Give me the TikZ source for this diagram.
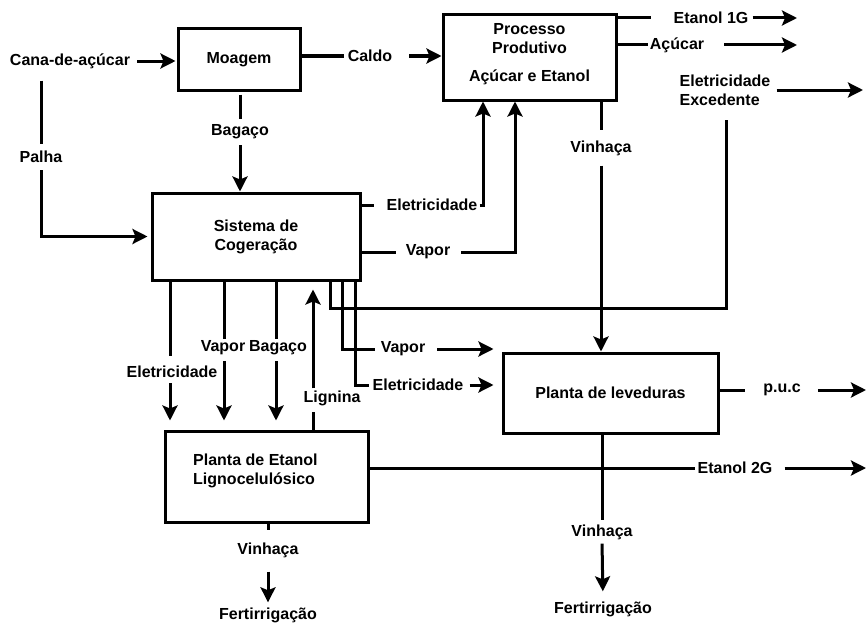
\documentclass[tikz,border=0pt]{standalone}
\usepackage{fontspec}
\setmainfont{Liberation Sans}
\usetikzlibrary{arrows.meta,calc}
\newcommand\dfont{\fontsize{16}{19}\selectfont\bfseries}
\begin{document}
\begin{tikzpicture}[x=1pt,y=-1pt,
  box/.style={draw, line width=3pt, inner sep=0pt, font=\dfont, align=center},
  lbl/.style={inner sep=2pt, font=\dfont},
  ln/.style={line width=3pt},
  arr/.style={line width=3pt, -{Stealth[length=15pt,width=15pt,inset=3pt]}},
]
\useasboundingbox[fill=white] (0,0) rectangle (866,626);
% boxes
\node[box, minimum width=122pt, minimum height=61pt] (moa) at (239,59.5) {Moagem};
\node[box, minimum width=173pt, minimum height=85pt] (proc) at (529.5,57.5) {};
\node[lbl, align=center] (proct) at (529.5,54) {Processo\\Produtivo\\[9pt]Açúcar e Etanol};
\node[box, minimum width=208pt, minimum height=87pt] (sis) at (256,236.5) {Sistema de\\Cogeração};
\node[box, minimum width=215pt, minimum height=80pt] (lev) at (610.5,393) {Planta de leveduras};
\node[box, minimum width=203pt, minimum height=91pt] (pet) at (266.5,476.5) {};
\node[lbl, align=left, anchor=west] (pett) at (191,471) {Planta de Etanol\\Lignocelulósico};
% labels
\node[lbl] (cana) at (70,61) {Cana-de-açúcar};
\node[lbl] (palha) at (41,157) {Palha};
\node[lbl] (bag1) at (240,132) {Bagaço};
\node[lbl] (caldo) at (370,56) {Caldo};
\node[lbl] (e1g) at (711,18) {Etanol 1G};
\node[lbl] (acu) at (677,45) {Açúcar};
\node[lbl, align=left] (ee) at (725,90) {Eletricidade\\Excedente};
\node[lbl] (vin1) at (601,148) {Vinhaça};
\node[lbl] (el1) at (432,205) {Eletricidade};
\node[lbl] (vap1) at (428,252) {Vapor};
\node[lbl] (el2) at (172,372) {Eletricidade};
\node[lbl] (vap3) at (223,348) {Vapor};
\node[lbl] (bag2) at (278,348) {Bagaço};
\node[lbl] (lig) at (332,398) {Lignina};
\node[lbl] (vap2) at (403,349) {Vapor};
\node[lbl] (el3) at (418,385) {Eletricidade};
\node[lbl] (puc) at (782,390) {p.u.c};
\node[lbl] (vin2) at (602,532) {Vinhaça};
\node[lbl] (fert2) at (603,609) {Fertirrigação};
\node[lbl] (e2g) at (735,468) {Etanol 2G};
\node[lbl] (vin3) at (268,550) {Vinhaça};
\node[lbl] (fert1) at (268,615) {Fertirrigação};
% free ends
\coordinate (e1gend) at (797,18);
\coordinate (acuend) at (797,45);
\coordinate (eeend) at (863,90);
\coordinate (pucend) at (866,390);
\coordinate (e2gend) at (866,468);
\coordinate (j1) at (726,308);
\coordinate (s1) at ([xshift=-86pt]sis.south);
\coordinate (s2) at ([xshift=-32pt]sis.south);
\coordinate (s3) at ([xshift=20pt]sis.south);
\coordinate (s4) at ([xshift=57pt]sis.south);
\coordinate (s5) at ([xshift=74pt]sis.south);
\coordinate (s6) at ([xshift=86pt]sis.south);
\coordinate (s7) at ([xshift=99pt]sis.south);
% connectors
\draw[arr, shorten >=1pt] ([xshift=5pt]cana.east) -- (moa.west |- cana.east);
\draw[ln, shorten <=10pt, shorten >=5pt] (palha |- cana.south) -- (palha.north);
\draw[arr, shorten <=5pt, shorten >=3pt] (palha.south) |- (sis.west);
\draw[ln, shorten <=3pt, shorten >=4pt] (bag1 |- moa.south) -- (bag1.north);
\draw[arr, shorten <=4pt] (bag1.south) -- (bag1 |- sis.north);
\draw[ln] (moa.east |- caldo) -- ([xshift=-2pt]caldo.west);
\draw[arr] ([xshift=15pt]caldo.east) -- (proc.west |- caldo);
\draw[ln] (proc.east |- e1g) -- ([xshift=-20pt]e1g.west);
\draw[arr] ([xshift=2pt]e1g.east) -- (e1gend);
\draw[ln] (proc.east |- acu) -- (acu.west);
\draw[arr] ([xshift=18pt]acu.east) -- (acuend);
\draw[arr] ([xshift=4pt]ee.east) -- (eeend);
\draw[ln, shorten >=12pt] (s5) |- (j1) -- (j1 |- ee.south);
\draw[ln, shorten >=8pt] (vin1 |- proc.south) -- (vin1.north);
\draw[arr, shorten <=8pt] (vin1.south) -- (vin1 |- lev.north);
\draw[ln, shorten >=10pt] (sis.east |- el1) -- (el1.west);
\draw[arr] (el1.east) -| ([xshift=-46.5pt]proc.south);
\draw[ln, shorten >=8pt] (sis.east |- vap1) -- (vap1.west);
\draw[arr, shorten <=9pt] (vap1.east) -| ([xshift=-14.5pt]proc.south);
% Sistema bottom outputs
\draw[ln, shorten >=8pt] (s1) -- (s1 |- el2.north);
\draw[arr, shorten <=3pt, shorten >=9pt] (s1 |- el2.south) -- (s1 |- pet.north);
\draw[ln] (s2) -- (s2 |- vap3.north);
\draw[arr, shorten <=4pt, shorten >=9pt] (s2 |- vap3.south) -- (s2 |- pet.north);
\draw[ln] (s3) -- (s3 |- bag2.north);
\draw[arr, shorten <=4pt, shorten >=9pt] (s3 |- bag2.south) -- (s3 |- pet.north);
\draw[ln, shorten >=4pt] (s4 |- pet.north) -- (s4 |- lig.south);
\draw[arr, shorten >=8pt] (s4 |- lig.north) -- (s4);
\draw[ln, shorten >=4pt] (s6) |- (vap2.west);
\draw[arr, shorten <=10pt, shorten >=8pt] (vap2.east) -- (lev.west |- vap2);
\draw[ln, shorten >=1pt] (s7) |- (el3.west);
\draw[arr, shorten <=4pt, shorten >=8pt] (el3.east) -- (lev.west |- el3);
% leveduras outputs
\draw[ln, shorten >=16pt] (lev.east |- puc) -- (puc.west);
\draw[arr, shorten <=15pt] (puc.east) -- (pucend);
\draw[ln, shorten >=2pt] (vin2 |- lev.south) -- (vin2.north);
\draw[arr, shorten <=2pt, shorten >=8pt] (vin2.south) -- (fert2.north);
% etanol 2G plant outputs
\draw[ln] (pet.east |- e2g) -- (e2g.west);
\draw[arr, shorten <=10pt] (e2g.east) -- (e2gend);
\draw[ln, shorten >=10pt] (vin3 |- pet.south) -- (vin3.north);
\draw[arr, shorten <=12pt, shorten >=3pt] (vin3.south) -- (fert1.north);
\end{tikzpicture}
\end{document}
